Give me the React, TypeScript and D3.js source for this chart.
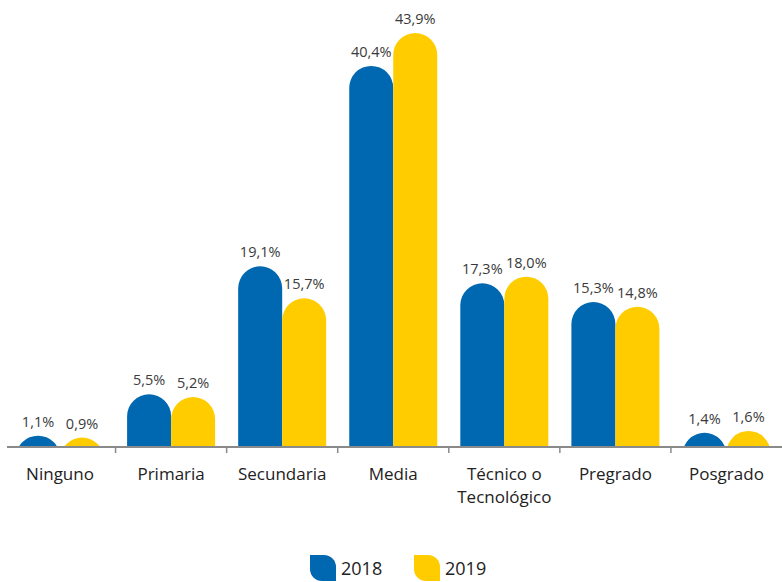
import React from 'react';
import * as d3 from 'd3';

const categories = ['Ninguno', 'Primaria', 'Secundaria', 'Media', 'Técnico o Tecnológico', 'Pregrado', 'Posgrado'];
const categoryLines = [['Ninguno'], ['Primaria'], ['Secundaria'], ['Media'], ['Técnico o', 'Tecnológico'], ['Pregrado'], ['Posgrado']];
const years = ['2018', '2019'];
const values2018 = [1.1, 5.5, 19.1, 40.4, 17.3, 15.3, 1.4];
const values2019 = [0.9, 5.2, 15.7, 43.9, 18.0, 14.8, 1.6];
const colors = ['#0067b1', '#ffcc00'];

const width = 782;
const height = 582;
const baseline = 446;
const barW = 44;
const font = '"Open Sans", "DejaVu Sans", sans-serif';

// bar with a half-round top, drawn past the baseline and clipped there
function roundedBar(x: number, y: number, w: number) {
  const r = w / 2;
  const bottom = baseline + r + 4;
  return `M${x},${bottom} V${y + r} A${r},${r} 0 0 1 ${x + w},${y + r} V${bottom} Z`;
}

function legendShape(x: number, y: number, s: number) {
  const r = 12;
  return `M${x},${y} H${x + s - r} A${r},${r} 0 0 1 ${x + s},${y + r} V${y + s} H${x + r} A${r},${r} 0 0 1 ${x},${y + s - r} Z`;
}

export default function App() {
  const x = d3.scaleBand<string>().domain(categories).range([4.5, 782]).paddingInner(0);
  const y = d3.scaleLinear().domain([0, 43.9]).range([baseline, 33]);
  const series = [values2018, values2019];
  const inner = (c: string) => {
    const center = (x(c) as number) + x.bandwidth() / 2;
    return d3.scaleBand<string>().domain(years).range([center - barW, center + barW]);
  };

  return (
    <div style={{ position: 'absolute', left: 0, top: 0 }}>
      <svg width={width} height={height} style={{ display: 'block' }}>
        <defs>
          <clipPath id="plot">
            <rect x={0} y={0} width={width} height={baseline} />
          </clipPath>
        </defs>
        <g clipPath="url(#plot)">
          {categories.map((c, i) => {
            const sub = inner(c);
            return years.map((yr, j) => (
              <path key={c + yr} d={roundedBar(sub(yr) as number, y(series[j][i]), sub.bandwidth())} fill={colors[j]} />
            ));
          })}
        </g>
        {categories.map((c, i) => {
          const sub = inner(c);
          return years.map((yr, j) => (
            <text key={'l' + c + yr} x={(sub(yr) as number) + sub.bandwidth() / 2} y={y(series[j][i]) - 9}
              textAnchor="middle" fontFamily={font} fontSize={14.5} fill="#3a3a3a">
              {series[j][i].toFixed(1).replace('.', ',')}%
            </text>
          ));
        })}
        <line x1={7} x2={782} y1={baseline + 1} y2={baseline + 1} stroke="#8a8a8a" strokeWidth={2} />
        {categories.slice(1).map(c => (
          <line key={'t' + c} x1={(x(c) as number)} x2={(x(c) as number)} y1={baseline} y2={baseline + 7} stroke="#8a8a8a" strokeWidth={1.5} />
        ))}
        {categories.map((c, i) => {
          const center = (x(c) as number) + x.bandwidth() / 2;
          return (
            <g key={'c' + c}>
              {categoryLines[i].map((ln, k) => (
                <text key={k} x={center} y={480 + k * 23} textAnchor="middle" fontFamily={font} fontSize={17} fill="#222">{ln}</text>
              ))}
            </g>
          );
        })}
        {years.map((yr, j) => {
          const lx = 310 + j * 104;
          return (
            <g key={'lg' + yr}>
              <path d={legendShape(lx, 555, 26)} fill={colors[j]} />
              <text x={lx + 31} y={575} fontFamily={font} fontSize={18} fill="#222">{yr}</text>
            </g>
          );
        })}
      </svg>
    </div>
  );
}
